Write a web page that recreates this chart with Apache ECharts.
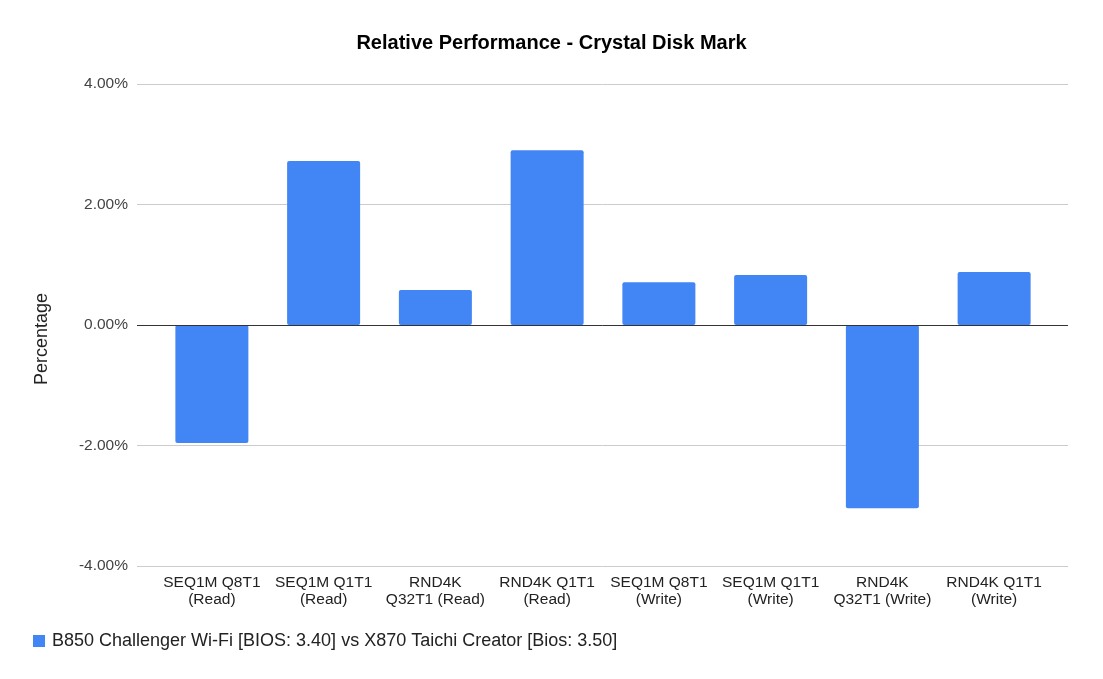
<!DOCTYPE html>
<html><head><meta charset="utf-8">
<script src="https://cdn.jsdelivr.net/npm/echarts@6/dist/echarts.min.js"></script>
<style>html,body{margin:0;padding:0;background:#fff}#c{width:1103px;height:679px}</style>
</head><body><div id="c"></div>
<script>
const categories = ["SEQ1M Q8T1\n(Read)","SEQ1M Q1T1\n(Read)","RND4K\nQ32T1 (Read)","RND4K Q1T1\n(Read)","SEQ1M Q8T1\n(Write)","SEQ1M Q1T1\n(Write)","RND4K\nQ32T1 (Write)","RND4K Q1T1\n(Write)"];
const values = [-1.96, 2.72, 0.58, 2.90, 0.71, 0.83, -3.04, 0.88];
const yTicks = [-4, -2, 0, 2, 4];
const seriesName = "B850 Challenger Wi-Fi [BIOS: 3.40] vs X870 Taichi Creator [Bios: 3.50]";
const chart = echarts.init(document.getElementById('c'), null, {renderer:'canvas'});
const F = 'Liberation Sans, Arial, sans-serif';
const yMin = yTicks[0], yMax = yTicks[yTicks.length-1], yStep = yTicks[1]-yTicks[0];
chart.setOption({
  animation:false,
  textStyle:{fontFamily:F},
  title:{text:'Relative Performance - Crystal Disk Mark',left:'center',top:28,textStyle:{fontFamily:F,fontSize:20,fontWeight:'bold',color:'#000'}},
  legend:{left:28,top:627,icon:'rect',itemWidth:12,itemHeight:12,itemGap:6,textStyle:{fontFamily:F,fontSize:18,color:'#222',padding:[0,0,0,2]},data:[seriesName]},
  graphic:[{type:'text',left:33,top:293,rotation:Math.PI/2,style:{text:'Percentage',font:'18px '+F,fill:'#222'}}],
  grid:[
    {left:137,right:35,top:84,bottom:113,containLabel:false},
    {left:156,right:53,top:84,bottom:113,containLabel:false}
  ],
  xAxis:[
    {type:'value',gridIndex:0,show:false,min:0,max:1},
    {type:'category',gridIndex:1,data:categories,axisTick:{show:false},axisLine:{show:false},
     axisLabel:{interval:0,fontFamily:F,fontSize:15.5,color:'#222',lineHeight:17,margin:8}}
  ],
  yAxis:[
    {type:'value',gridIndex:0,min:yMin,max:yMax,interval:yStep,
     axisLabel:{formatter:v=>v.toFixed(2)+'%',fontFamily:F,fontSize:15.5,color:'#444',margin:9},
     splitLine:{lineStyle:{color:'#ccc',width:1}},axisLine:{show:false},axisTick:{show:false}},
    {type:'value',gridIndex:1,min:yMin,max:yMax,interval:yStep,show:false,splitLine:{show:false}}
  ],
  series:[
    {name:seriesName,type:'bar',xAxisIndex:1,yAxisIndex:1,data:values,barWidth:73,itemStyle:{color:'#4285f4',borderRadius:2}},
    {type:'line',xAxisIndex:0,yAxisIndex:0,data:[],silent:true,
     markLine:{silent:true,symbol:'none',label:{show:false},lineStyle:{color:'#333',width:1,type:'solid'},data:[{yAxis:0}]}}
  ]
});
</script></body></html>
